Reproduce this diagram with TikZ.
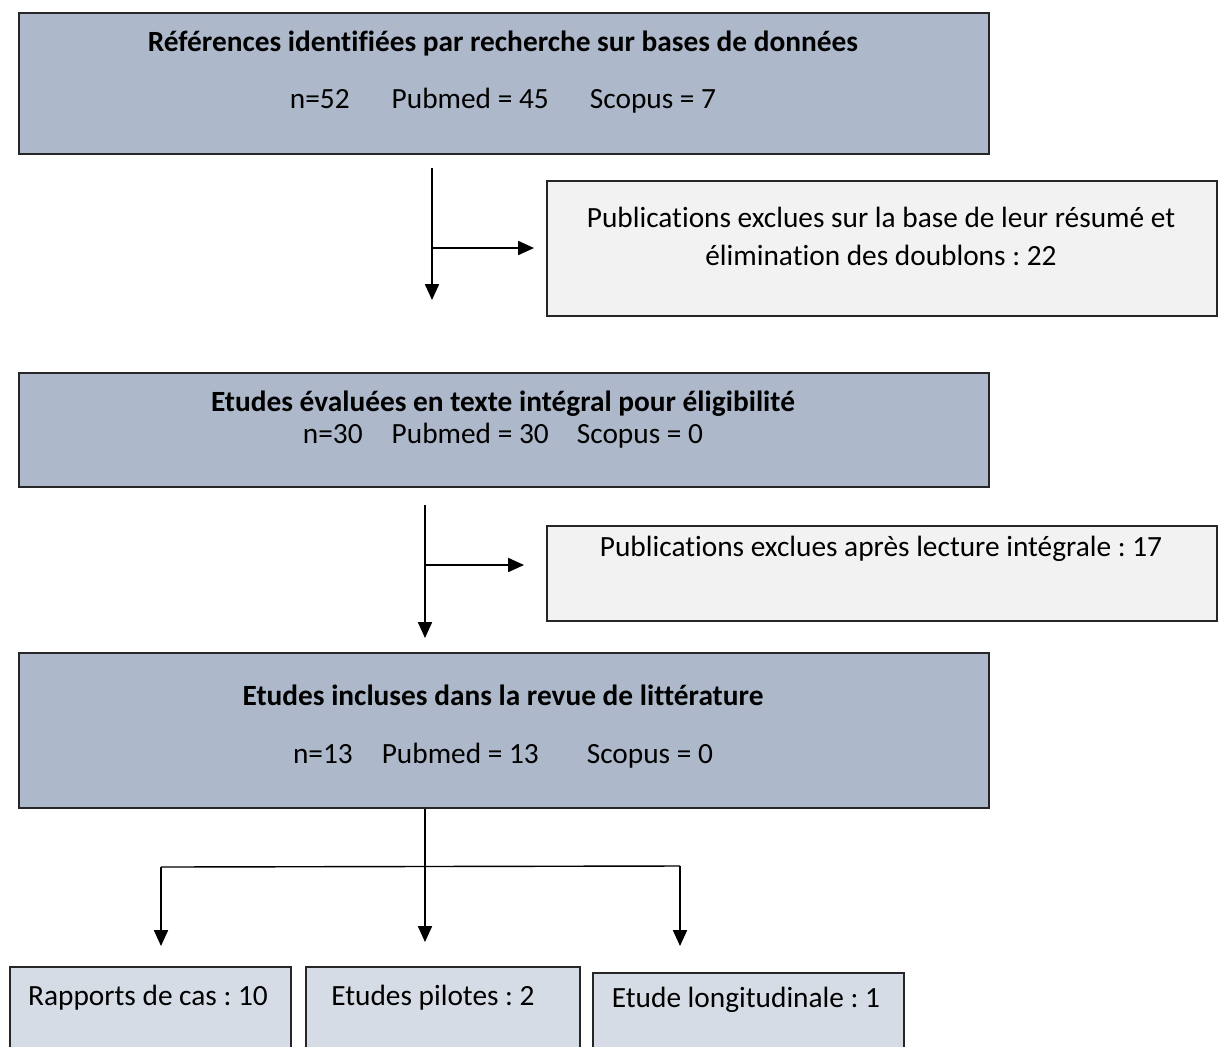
\documentclass[tikz,border=0pt]{standalone}
\usepackage{fontspec}
\setmainfont{Carlito}[Ligatures=NoCommon]
\usetikzlibrary{arrows.meta,calc}
\frenchspacing

\definecolor{mainblue}{HTML}{ADB9CA}
\definecolor{lightblue}{HTML}{D6DCE5}
\definecolor{exclgray}{HTML}{F2F2F2}

\tikzset{
  mainbox/.style={draw=black!85, line width=1.1pt, fill=mainblue, anchor=north west, inner sep=0pt},
  exclbox/.style={draw=black!85, line width=1.1pt, fill=exclgray, anchor=north west, inner sep=0pt},
  typebox/.style={draw=black!85, line width=1.1pt, fill=lightblue, anchor=north west, inner sep=0pt, minimum height=2cm},
  txt/.style={inner sep=0pt, font=\fontsize{16.7}{20}\selectfont},
  flow/.style={line width=0.8pt, -{Triangle[width=8pt,length=9pt]}},
  branch/.style={line width=0.8pt}
}

\begin{document}
\begin{tikzpicture}[x=0.02cm,y=-0.02cm]
			\useasboundingbox (0,0) rectangle (1224,1046);
			\clip (0,0) rectangle (1224,1046);
			% boxes
			\node[mainbox, minimum width=19.4cm, minimum height=2.82cm] (refs) at (18,12) {};
			\node[exclbox, minimum width=13.4cm, minimum height=2.7cm] (excl1) at (546,180) {};
			\node[mainbox, minimum width=19.4cm, minimum height=2.28cm] (eval) at (18,372) {};
			\node[exclbox, minimum width=13.4cm, minimum height=1.9cm] (excl2) at (546,525) {};
			\node[mainbox, minimum width=19.4cm, minimum height=3.1cm] (incl) at (18,652) {};
			\node[typebox, minimum width=5.62cm] (cas) at (9,966) {};
			\node[typebox, minimum width=5.48cm] (pilote) at (305,966) {};
			\node[typebox, minimum width=6.22cm] (longi) at (592,972) {};
			% texts
			\node[txt] (refsA) at (503,44) {\textbf{Références identifiées par recherche sur bases de données}};
			\node[txt] (refsB) at (503,101) {n=52\hspace{23.9pt}Pubmed = 45\hspace{23.4pt}Scopus = 7};
			\node[txt] (excl1A) at (881,217) {Publications exclues sur la base de leur résumé et};
			\node[txt] (excl1B) at (881,255) {élimination des doublons : 22};
			\node[txt] (evalA) at (503,404) {\textbf{Etudes évaluées en texte intégral pour éligibilité}};
			\node[txt] (evalB) at (503,436) {n=30\hspace{16.5pt}Pubmed = 30\hspace{16pt}Scopus = 0};
			\node[txt] (excl2A) at (881,549) {Publications exclues après lecture intégrale : 17};
			\node[txt] (inclA) at (503,695) {\textbf{Etudes incluses dans la revue de littérature}};
			\node[txt] (inclB) at (503,756) {n=13\hspace{16.5pt}Pubmed = 13\hspace{27.3pt}Scopus = 0};
			\node[txt] (casT) at (148,998) {Rapports de cas : 10};
			\node[txt] (piloteT) at (433,998) {Etudes pilotes : 2};
			\node[txt] (longiT) at (746,1000) {Etude longitudinale : 1};
			% connectors
			\coordinate (s1) at (432,168);
			\coordinate (e1) at (432,300);
			\coordinate (b1) at (432,248);
			\coordinate (t1) at (534,248);
			\draw[flow] (s1) -- (e1);
			\draw[flow] (b1) -- (t1);
			\coordinate (s2) at (425,505);
			\coordinate (e2) at (425,638);
			\coordinate (b2) at (425,565);
			\coordinate (t2) at (524,565);
			\draw[flow] (s2) -- (e2);
			\draw[flow] (b2) -- (t2);
			\coordinate (s3) at (incl.south -| s2);
			\coordinate (e3) at (425,942);
			\coordinate (jl) at (161,867);
			\coordinate (jr) at (680,866);
			\coordinate (el) at (161,946);
			\coordinate (er) at (680,946);
			\draw[flow] (s3) -- (e3);
			\draw[branch] (jl) -- (jr);
			\draw[flow] (jl) -- (el);
			\draw[flow] (jr) -- (er);
\end{tikzpicture}
\end{document}
